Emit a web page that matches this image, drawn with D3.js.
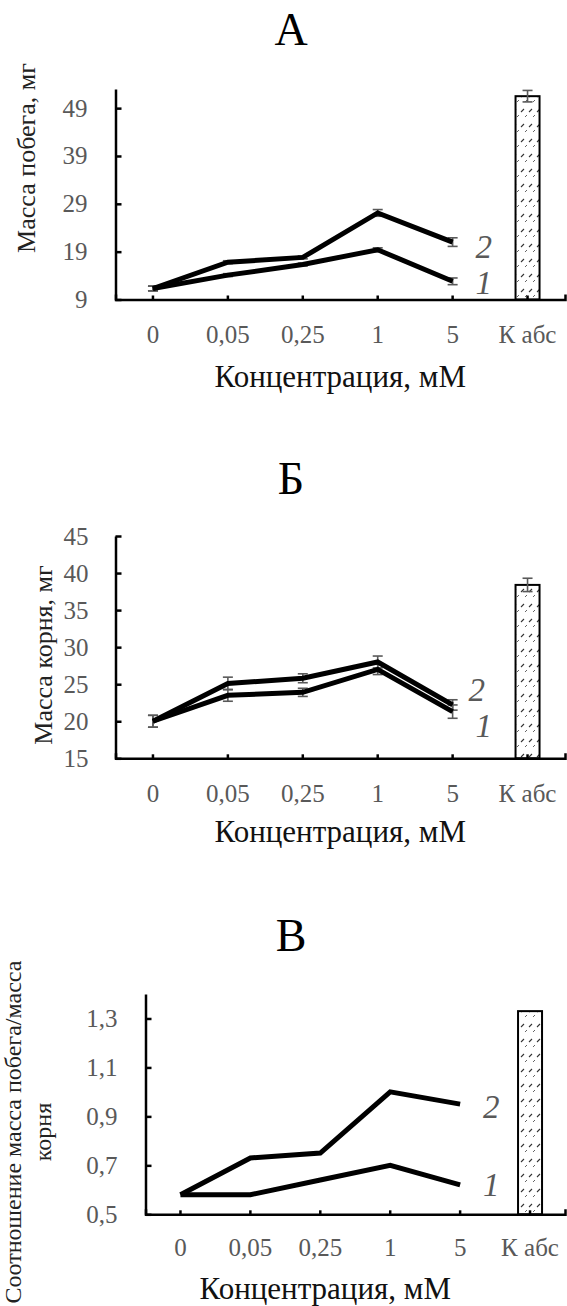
<!DOCTYPE html>
<html><head><meta charset="utf-8">
<script src="https://cdn.jsdelivr.net/npm/d3@7"></script>
<style>
html,body{margin:0;padding:0;background:#fff;}
#chart text{font-family:"Liberation Serif","Times New Roman",serif !important;}
</style></head>
<body>
<svg id="chart" width="567" height="1306"></svg>
<script>
// ---- data ----
const categories = ["0", "0,05", "0,25", "1", "5", "К абс"];
const concentrations = ["0", "0,05", "0,25", "1", "5"];
const controlCategory = "К абс";

// A: shoot mass, mg
const shootSeries1 = [11.3, 14.1, 16.3, 19.4, 12.8];
const shootSeries2 = [11.3, 16.8, 17.8, 27.1, 21.0];
const shootErr1 = [0.5, 0.3, 0.3, 0.4, 0.7];
const shootErr2 = [0.5, 0.3, 0.3, 0.7, 0.9];
const shootControl = 51.5;
const shootControlErr = 1.2;
const shootTicks = [9, 19, 29, 39, 49];

// Б: root mass, mg
const rootSeries1 = [20.0, 23.5, 23.9, 27.0, 21.3];
const rootSeries2 = [20.0, 25.1, 25.8, 28.0, 22.2];
const rootErr1 = [0.8, 0.8, 0.55, 0.7, 0.9];
const rootErr2 = [0.8, 0.85, 0.6, 0.8, 0.7];
const rootControl = 38.4;
const rootControlErr = 0.9;
const rootTicks = [15, 20, 25, 30, 35, 40, 45];

// В: shoot/root ratio
const ratioSeries1 = [0.58, 0.58, 0.64, 0.70, 0.62];
const ratioSeries2 = [0.58, 0.73, 0.75, 1.00, 0.95];
const ratioControl = 1.33;
const ratioTicks = [0.5, 0.7, 0.9, 1.1, 1.3];

const seriesNames = ["1", "2"];
const panelTitles = ["А", "Б", "В"];
const xTitle = "Концентрация, мМ";
const yTitles = [["Масса побега, мг"], ["Масса корня, мг"], ["Соотношение масса побега/масса", "корня"]];

// ---- layout / panels ----
const panels = [
  {title: panelTitles[0], titleY: 45, left: 115.5, right: 565, top: 89, bottom: 299.5,
   domain: [9, 53], ticks: shootTicks, fmt: d => String(d), tickPad: 28,
   s: [shootSeries1, shootSeries2], e: [shootErr1, shootErr2], ctrl: shootControl, ctrlErr: shootControlErr,
   labelPos: [[31, 1], [31, 4]], xLabelDy: 35, xTitleY: 387, yTitle: yTitles[0], yTitleX: 26, yTitleY: 158},
  {title: panelTitles[1], titleY: 494, left: 115.5, right: 565, top: 536, bottom: 758.3,
   domain: [15, 45], ticks: rootTicks, fmt: d => String(d), tickPad: 27,
   s: [rootSeries1, rootSeries2], e: [rootErr1, rootErr2], ctrl: rootControl, ctrlErr: rootControlErr,
   labelPos: [[31, 14], [24, -15]], xLabelDy: 35, xTitleY: 842, yTitle: yTitles[1], yTitleX: 43, yTitleY: 655},
  {title: panelTitles[2], titleY: 951, left: 145.5, right: 565, top: 994, bottom: 1214.3,
   domain: [0.5, 1.4], ticks: ratioTicks, fmt: d => d3.format(".1f")(d).replace(".", ","), tickPad: 28,
   s: [ratioSeries1, ratioSeries2], e: null, ctrl: ratioControl, ctrlErr: null,
   labelPos: [[31, 0], [31, 2]], xLabelDy: 32.5, xTitleY: 1299, yTitle: yTitles[2], yTitleX: 25, yTitleY: 1132}
];

const FONT = '"Liberation Serif", "Times New Roman", serif';
const svg = d3.select("#chart");
const defs = svg.append("defs");
const pat = defs.append("pattern").attr("id", "hatch").attr("patternUnits", "userSpaceOnUse")
  .attr("width", 8).attr("height", 15);
pat.append("rect").attr("width", 8).attr("height", 15).attr("fill", "#fff");
pat.append("path").attr("d", "M1,7 L4,4").attr("stroke", "#333").attr("stroke-width", 1.1);
pat.append("path").attr("d", "M5,12 L7,10").attr("stroke", "#555").attr("stroke-width", 0.9);

const gray = "#595959";

function setFont(sel, size, italic) {
  sel.attr("font-family", "Liberation Serif").style("font-family", FONT).style("font-size", size + "px");
  if (italic) sel.style("font-style", "italic");
  return sel;
}

panels.forEach((p, pi) => {
  const x = d3.scaleBand().domain(categories).range([p.left, p.right]).padding(0);
  const cx = c => x(c) + x.bandwidth() / 2;
  const y = d3.scaleLinear().domain(p.domain).range([p.bottom, p.top]);

  setFont(svg.append("text").attr("x", 291).attr("y", p.titleY).attr("text-anchor", "middle")
    .attr("fill", "#000").text(p.title), 46);

  const bw = 24;
  svg.append("rect")
    .attr("x", cx(controlCategory) - bw / 2).attr("y", y(p.ctrl))
    .attr("width", bw).attr("height", p.bottom - y(p.ctrl))
    .attr("fill", "url(#hatch)").attr("stroke", "#000").attr("stroke-width", 2);
  if (p.ctrlErr != null) {
    const g = svg.append("g").attr("stroke", gray).attr("stroke-width", 1.6);
    const xc = cx(controlCategory);
    g.append("line").attr("x1", xc).attr("x2", xc).attr("y1", y(p.ctrl + p.ctrlErr)).attr("y2", y(p.ctrl - p.ctrlErr));
    [p.ctrl + p.ctrlErr, p.ctrl - p.ctrlErr].forEach(v =>
      g.append("line").attr("x1", xc - 5).attr("x2", xc + 5).attr("y1", y(v)).attr("y2", y(v)));
  }

  if (p.e) {
    p.s.forEach((ser, si) => {
      const g = svg.append("g").attr("stroke", gray).attr("stroke-width", 1.6);
      ser.forEach((v, i) => {
        const xc = cx(concentrations[i]), err = p.e[si][i];
        g.append("line").attr("x1", xc).attr("x2", xc).attr("y1", y(v + err)).attr("y2", y(v - err));
        [v + err, v - err].forEach(w =>
          g.append("line").attr("x1", xc - 5).attr("x2", xc + 5).attr("y1", y(w)).attr("y2", y(w)));
      });
    });
  }

  const line = d3.line().x((d, i) => cx(concentrations[i])).y(d => y(d));
  p.s.forEach(ser => {
    svg.append("path").datum(ser).attr("d", line).attr("fill", "none")
      .attr("stroke", "#000").attr("stroke-width", 5).attr("stroke-linejoin", "miter");
  });

  p.s.forEach((ser, si) => {
    setFont(svg.append("text").attr("x", cx(concentrations[4]) + p.labelPos[si][0])
      .attr("y", y(ser[4]) + p.labelPos[si][1]).attr("dy", "0.35em")
      .attr("text-anchor", "middle").attr("fill", gray).text(seriesNames[si]), 33, true);
  });

  const yAxis = d3.axisLeft(y).tickValues(p.ticks).tickFormat(p.fmt).tickSize(-6).tickSizeOuter(0).tickPadding(p.tickPad);
  const gy = svg.append("g").attr("transform", `translate(${p.left},0)`).call(yAxis);
  gy.attr("font-family", null).attr("font-size", null);
  gy.select(".domain").attr("stroke", "#000").attr("stroke-width", 2.5);
  gy.selectAll(".tick line").attr("stroke", "#000").attr("stroke-width", 2.5);
  setFont(gy.selectAll(".tick text"), 25).attr("fill", gray);

  const xAxis = d3.axisBottom(x).tickSize(-4).tickSizeOuter(-5);
  const gx = svg.append("g").attr("transform", `translate(0,${p.bottom})`).call(xAxis);
  gx.attr("font-family", null).attr("font-size", null);
  gx.select(".domain").attr("stroke", "#000").attr("stroke-width", 2.5);
  gx.selectAll(".tick line").attr("stroke", "#000").attr("stroke-width", 2.5);
  setFont(gx.selectAll(".tick text"), 25).attr("fill", gray)
    .attr("y", p.xLabelDy).attr("dy", "0.35em");

  setFont(svg.append("text").attr("x", (p.left + p.right) / 2 + (pi === 2 ? -30 : 0)).attr("y", p.xTitleY)
    .attr("text-anchor", "middle").attr("fill", "#111").text(xTitle), 31);
  const yt = setFont(svg.append("text").attr("transform", `translate(${p.yTitleX},${p.yTitleY}) rotate(-90)`)
    .attr("text-anchor", "middle").attr("fill", "#222"), pi === 2 ? 24 : 26);
  p.yTitle.forEach((t, li) => yt.append("tspan").attr("x", 0).attr("dy", li === 0 ? (p.yTitle.length > 1 ? "-0.15em" : "0.35em") : "1.25em").text(t));
});
</script>
</body></html>
